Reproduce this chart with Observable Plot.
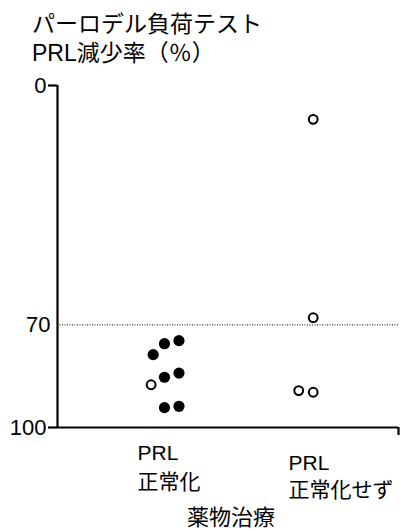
<!DOCTYPE html>
<html>
<head>
<meta charset="utf-8">
<script src="https://cdn.jsdelivr.net/npm/d3@7"></script>
<script src="https://cdn.jsdelivr.net/npm/@observablehq/plot@0.6"></script>
<style>
  html, body { margin: 0; padding: 0; background: #fff; }
  #wrap { width: 404px; height: 531px; position: relative; overflow: hidden; }
  #title { font-family: "Liberation Sans", "Noto Sans CJK JP", sans-serif; font-size: 23px; line-height: 29px;
           padding: 10px 0 0 32px; height: 58px; color: #000; white-space: pre; }
</style>
</head>
<body>
<div id="wrap">
  <div id="title"></div>
  <div id="chart"></div>
</div>
<script>
// ---- data ----
const titleLines = ["パーロデル負荷テスト", "PRL減少率（％）"];
const groups = ["PRL\n正常化", "PRL\n正常化せず"];
const groupPos = [1, 2];
const xTitle = "薬物治療";
// PRL decrease (%) per patient
const drop   = [87.5, 78.7, 75.5, 74.6, 85.3, 84.1, 94.2, 93.8, 9.9, 67.9, 89.2, 89.7];
const groupOf = [0, 0, 0, 0, 0, 0, 0, 0, 1, 1, 1, 1];
// column within the group's swarm
const lane   = [-0.92, -0.78, 0, 1, 0, 1, 0, 1, 0.5, 0.5, -0.5, 0.5];
// filled (true) vs open (false) marker
const filled = [false, true, true, true, true, true, true, true, false, false, false, false];
const yTicks = [0, 70, 100];
const refLine = 70;
const laneWidth = 0.1025;
const xDomain = [0.244, 2.654];

// ---- build ----
document.getElementById("title").textContent = titleLines.join("\n");

const rows = drop.map((v, i) => ({
  y: v,
  x: groupPos[groupOf[i]] + lane[i] * laneWidth,
  filled: filled[i]
}));
const labelRows = groups.map((g, i) => ({x: groupPos[i], label: g, i}));

const font = '"Liberation Sans", "Noto Sans CJK JP", sans-serif';

const chart = Plot.plot({
  width: 404,
  height: 463,
  marginTop: 17,
  marginBottom: 104,
  marginLeft: 57,
  marginRight: 6,
  style: {fontFamily: font, fontSize: "21px", color: "#000", background: "#fff", overflow: "visible"},
  x: {type: "linear", domain: xDomain, axis: null},
  y: {domain: [0, 100], reverse: true, axis: null},
  marks: [
    Plot.ruleY([refLine], {stroke: "#000", strokeWidth: 1, strokeDasharray: "1,1.5"}),
    Plot.ruleX([xDomain[0]], {y1: yTicks[0], y2: yTicks[2], stroke: "#000", strokeWidth: 2.2}),
    Plot.ruleY([yTicks[2]], {stroke: "#000", strokeWidth: 2.2}),
    Plot.axisY({ticks: [yTicks[0], yTicks[2]], tickSize: 9, tickPadding: 2, fontSize: 22, strokeWidth: 2.2, label: null}),
    Plot.axisY({ticks: [yTicks[1]], tickSize: 0, tickPadding: 7, fontSize: 22, label: null}),
    Plot.axisX({ticks: [xDomain[1]], tickSize: 8, tickFormat: () => "", strokeWidth: 2.2, label: null}),
    Plot.dot(rows.filter(d => d.filled), {x: "x", y: "y", r: 5.6, fill: "#000", stroke: null}),
    Plot.dot(rows.filter(d => !d.filled), {x: "x", y: "y", r: 4.4, fill: "#fff", stroke: "#000", strokeWidth: 2}),
    Plot.text(labelRows.filter(d => d.i === 0), {x: "x", text: "label", frameAnchor: "bottom", textAnchor: "start",
      lineAnchor: "top", lineHeight: 1.38, dx: -27, dy: 12, fontSize: 21}),
    Plot.text(labelRows.filter(d => d.i === 1), {x: "x", text: "label", frameAnchor: "bottom", textAnchor: "start",
      lineAnchor: "top", lineHeight: 1.3, dx: -17.5, dy: 23, fontSize: 21}),
    Plot.text([xTitle], {frameAnchor: "bottom", text: d => d, dx: 3, dy: 90, fontSize: 22, lineAnchor: "middle"})
  ]
});
document.getElementById("chart").appendChild(chart);
</script>
</body>
</html>
